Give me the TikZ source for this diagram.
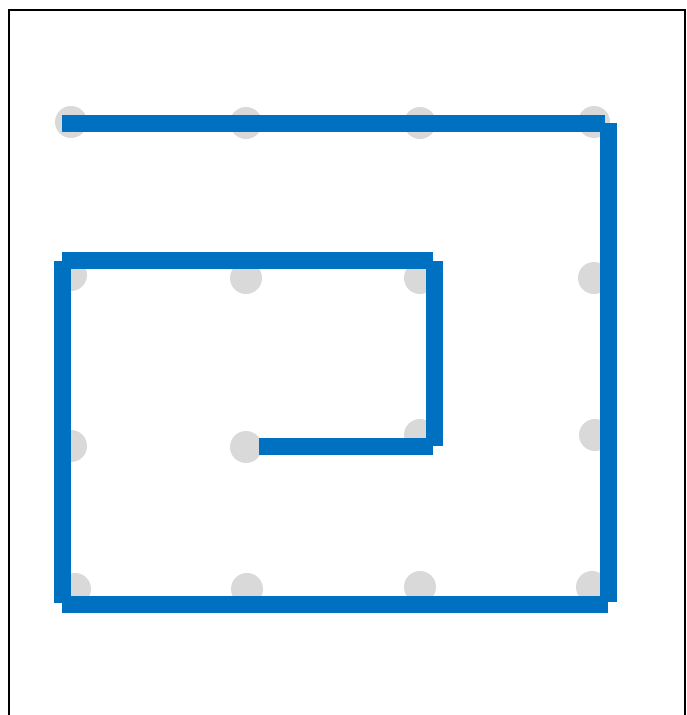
\documentclass[tikz,border=0pt]{standalone}
\usepackage{xcolor}
\usepackage{tikz}
\usetikzlibrary{positioning}
\definecolor{pegGray}{HTML}{D9D9D9}
\definecolor{wireBlue}{HTML}{0070C0}
\tikzstyle{peg} = [
    circle, fill=pegGray, minimum size=32pt, inner sep=0pt
]
\tikzstyle{wire} = [line width=17pt, draw=wireBlue]
\tikzstyle{frame} = [line width=2.2pt, draw=black]

\begin{document}
\begin{tikzpicture}[x=1pt, y=-1pt]
        \useasboundingbox (0,0) rectangle (686,715);
        \draw[frame] (9,10) rectangle (685,740);

        % Pegs
        \node[peg] (p11) at (71,122) {};
        \node[peg] (p12) at (246,123) {};
        \node[peg] (p13) at (420,123) {};
        \node[peg] (p14) at (594,122) {};
        \node[peg] (p21) at (71,275) {};
        \node[peg] (p22) at (246,278) {};
        \node[peg] (p23) at (420,278) {};
        \node[peg] (p24) at (594,278) {};
        \node[peg] (p31) at (71,446) {};
        \node[peg] (p32) at (246,447) {};
        \node[peg] (p33) at (420,435) {};
        \node[peg] (p34) at (595,435) {};
        \node[peg] (p41) at (75,589) {};
        \node[peg] (p42) at (247,589) {};
        \node[peg] (p43) at (420,587) {};
        \node[peg] (p44) at (592,587) {};

        % Wire ends
        \coordinate (topW) at (62,123);
        \coordinate (topE) at (605,123);
        \coordinate (rightN) at (608,123);
        \coordinate (rightS) at (608,602);
        \coordinate (botE) at (608,604);
        \coordinate (botW) at (62,604);
        \coordinate (leftS) at (62,603);
        \coordinate (leftN) at (62,261);
        \coordinate (midW) at (62,260.5);
        \coordinate (midE) at (433,260.5);
        \coordinate (innerN) at (434,261);
        \coordinate (innerS) at (434,446);
        \coordinate (hookE) at (433,446);
        \coordinate (hookW) at (259,446);

        \draw[wire] (topW) -- (topE);
        \draw[wire] (rightN) -- (rightS);
        \draw[wire] (botE) -- (botW);
        \draw[wire] (leftS) -- (leftN);
        \draw[wire] (midW) -- (midE);
        \draw[wire] (innerN) -- (innerS);
        \draw[wire] (hookE) -- (hookW);
    \end{tikzpicture}
\end{document}
